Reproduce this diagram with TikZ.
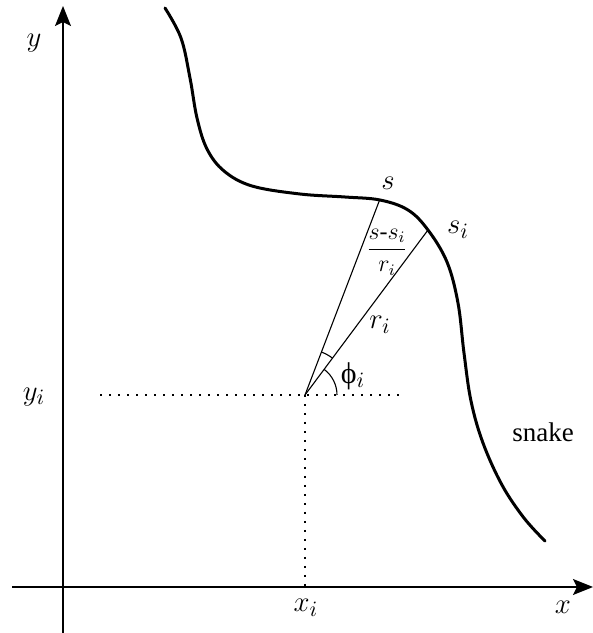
\documentclass[tikz,border=0pt]{standalone}
\usepackage{fontspec}
\setmainfont{Liberation Serif}
\usetikzlibrary{arrows.meta}
\tikzset{
  axis/.style={line width=0.7pt,-{Stealth[length=10pt,width=8pt,inset=2pt]}},
  snakeline/.style={line width=1.5pt,line cap=round},
  ray/.style={line width=0.55pt},
  dots/.style={line width=1pt,dash pattern=on 1pt off 3.5pt},
  lbl/.style={font=\fontsize{15}{16}\selectfont,inner sep=0pt},
}
\begin{document}
\begin{tikzpicture}[x=0.5pt,y=0.5pt]
\useasboundingbox (0,0) rectangle (593,633);
% coordinates
\coordinate (P) at (305,238);
\coordinate (S) at (380,434);
\coordinate (Si) at (428,403);
\coordinate (xl) at (12,46);
\coordinate (xr) at (593,46);
\coordinate (yb) at (63,0);
\coordinate (yt) at (63,627);
\coordinate (hl) at (100,238);
\coordinate (hr) at (403,238);
\coordinate (vb) at (305,46);
% axes
\draw[axis] (xl) -- (xr);
\draw[axis] (yb) -- (yt);
% dotted guides
\draw[dots] (hl) -- (hr);
\draw[dots] (P) -- (vb);
% snake
\draw[snakeline] plot[smooth,tension=0.6] coordinates {
 (165,625) (181,595) (190,555) (197,515) (207,484) (224,462) (252,447)
 (300,439) (345,436) (380,433) (408,423) (428,403) (447,371)
 (458,330) (464,280) (471,232) (483,190) (502,148) (524,115) (545,92)};
% rays
\draw[ray] (P) -- (S);
\draw[ray] (P) -- (Si);
% angle arcs
\draw[ray] ([shift={(0:16pt)}]P) arc[start angle=0,end angle=53.3,radius=16pt];
\draw[ray] ([shift={(53.3:23pt)}]P) arc[start angle=53.3,end angle=69.1,radius=23pt];
% labels
\node[lbl] (ly) at (34,590) {$y$};
\node[lbl] (lyi) at (34,236) {$y_i$};
\node[lbl] (lxi) at (306,25) {$x_i$};
\node[lbl] (lx) at (563,26) {$x$};
\node[lbl,font=\fontsize{13.5}{15}\selectfont] (lsnake) at (543,201) {snake};
\node[lbl] (ls) at (388,450) {$s$};
\node[lbl] (lsi) at (458,403) {$s_i$};
\node[lbl] (lr) at (380,308) {$r_i$};
\node[lbl,inner sep=1pt,font=\fontsize{12}{13}\selectfont] (lfrac) at (387,381) {$\displaystyle\frac{s\mbox{-}s_i}{r_i}$};
\node[lbl] (lphi) at (353,257) {ϕ$_i$};
\end{tikzpicture}
\end{document}
